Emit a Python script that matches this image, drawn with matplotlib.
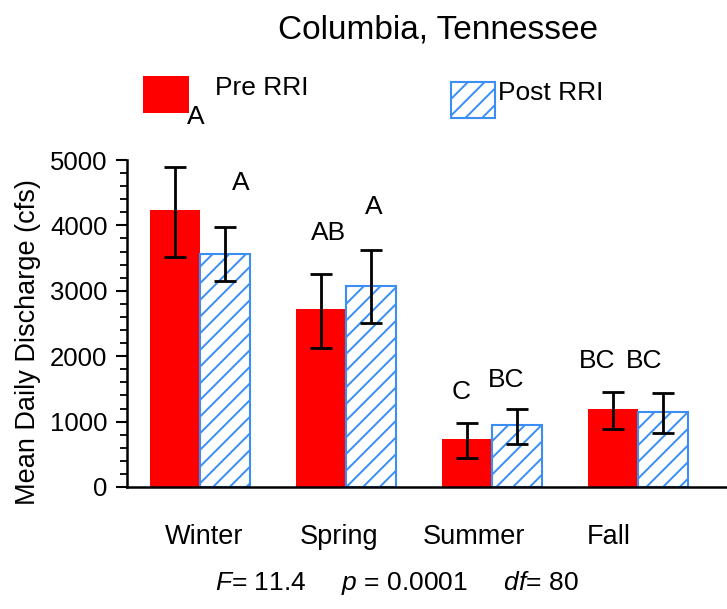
import numpy as np
import matplotlib.pyplot as plt
from matplotlib.patches import Rectangle

plt.rcParams['font.family'] = ['Liberation Sans', 'DejaVu Sans']
plt.rcParams['mathtext.fontset'] = 'custom'
plt.rcParams['mathtext.rm'] = 'Liberation Sans'
plt.rcParams['mathtext.it'] = 'Liberation Sans:italic'
plt.rcParams['hatch.linewidth'] = 1.4

# data
seasons = ['Winter', 'Spring', 'Summer', 'Fall']
pre_mean = [4230, 2720, 740, 1200]
pre_low = [3510, 2130, 445, 880]
pre_high = [4890, 3260, 985, 1460]
post_mean = [3570, 3080, 945, 1140]
post_low = [3150, 2510, 660, 830]
post_high = [3970, 3630, 1200, 1430]
pre_letters = ['A', 'AB', 'C', 'BC']
post_letters = ['A', 'A', 'BC', 'BC']
stats_text = r'$F$= 11.4     $p$ = 0.0001     $df$= 80'

# layout
W, H = 727, 609
red = '#ff0000'
blue = '#3a8ef6'
width = 0.34
pre_letter_x = [-0.03, 0.88, 1.79, 2.72]
pre_letter_y = [5660, 3880, 1450, 1920]
post_letter_x = [0.28, 1.19, 2.10, 3.04]
post_letter_y = [4650, 4280, 1630, 1920]
label_x = [0.03, 0.95, 1.88, 2.80]


def fx(px):
    return px / W


def fy(py):
    return 1 - py / H


fig = plt.figure(figsize=(W / 100, H / 100), dpi=100)
ax = fig.add_axes([fx(127), fy(487), 600 / W, 327 / H])

x = np.arange(len(seasons))
pre_err = [np.subtract(pre_mean, pre_low), np.subtract(pre_high, pre_mean)]
post_err = [np.subtract(post_mean, post_low), np.subtract(post_high, post_mean)]

ax.bar(x - width / 2, pre_mean, width, color=red, edgecolor=red, linewidth=0)
ax.bar(x + width / 2, post_mean, width, color='white', edgecolor=blue,
       hatch='//', linewidth=1.5)
ax.errorbar(x - width / 2, pre_mean, yerr=pre_err, fmt='none', ecolor='black',
            elinewidth=2, capsize=8, capthick=2)
ax.errorbar(x + width / 2, post_mean, yerr=post_err, fmt='none', ecolor='black',
            elinewidth=2, capsize=8, capthick=2)

for lx, ly, t in zip(pre_letter_x, pre_letter_y, pre_letters):
    ax.text(lx, ly, t, ha='center', va='center', fontsize=19, clip_on=False)
for lx, ly, t in zip(post_letter_x, post_letter_y, post_letters):
    ax.text(lx, ly, t, ha='center', va='center', fontsize=19, clip_on=False)

ax.set_xlim(-0.5, 3.61)
ax.set_ylim(0, 5000)
ax.set_yticks(np.arange(0, 5001, 1000))
ax.set_yticks(np.arange(0, 5001, 200), minor=True)
ax.tick_params(axis='y', which='major', length=8, width=1.5, labelsize=18.5, pad=6)
ax.tick_params(axis='y', which='minor', length=5, width=1.3)
ax.set_xticks([])
for s in ['top', 'right']:
    ax.spines[s].set_visible(False)
ax.spines['left'].set_linewidth(1.8)
ax.spines['bottom'].set_linewidth(1.8)

trans = ax.get_xaxis_transform()
for lx, name in zip(label_x, seasons):
    ax.text(lx, -(537 - 487) / 327, name, transform=trans, ha='center',
            va='center', fontsize=19.5)

fig.text(fx(28), fy(342), 'Mean Daily Discharge (cfs)', rotation=90,
         ha='center', va='center', fontsize=19.5)
fig.text(fx(438), fy(30), 'Columbia, Tennessee', ha='center', va='center',
         fontsize=24)
fig.text(fx(215), fy(583), stats_text, ha='left', va='center', fontsize=19)

# legend
fig.patches.append(Rectangle((fx(143), fy(113)), 46 / W, 37 / H,
                             transform=fig.transFigure, facecolor=red,
                             edgecolor=red, linewidth=0))
fig.patches.append(Rectangle((fx(451), fy(118)), 44 / W, 36 / H,
                             transform=fig.transFigure, facecolor='white',
                             edgecolor=blue, hatch='//', linewidth=1.5))
fig.text(fx(215), fy(88), 'Pre RRI', ha='left', va='center', fontsize=19)
fig.text(fx(498), fy(93), 'Post RRI', ha='left', va='center', fontsize=19)

fig.savefig('out.png', dpi=100)
